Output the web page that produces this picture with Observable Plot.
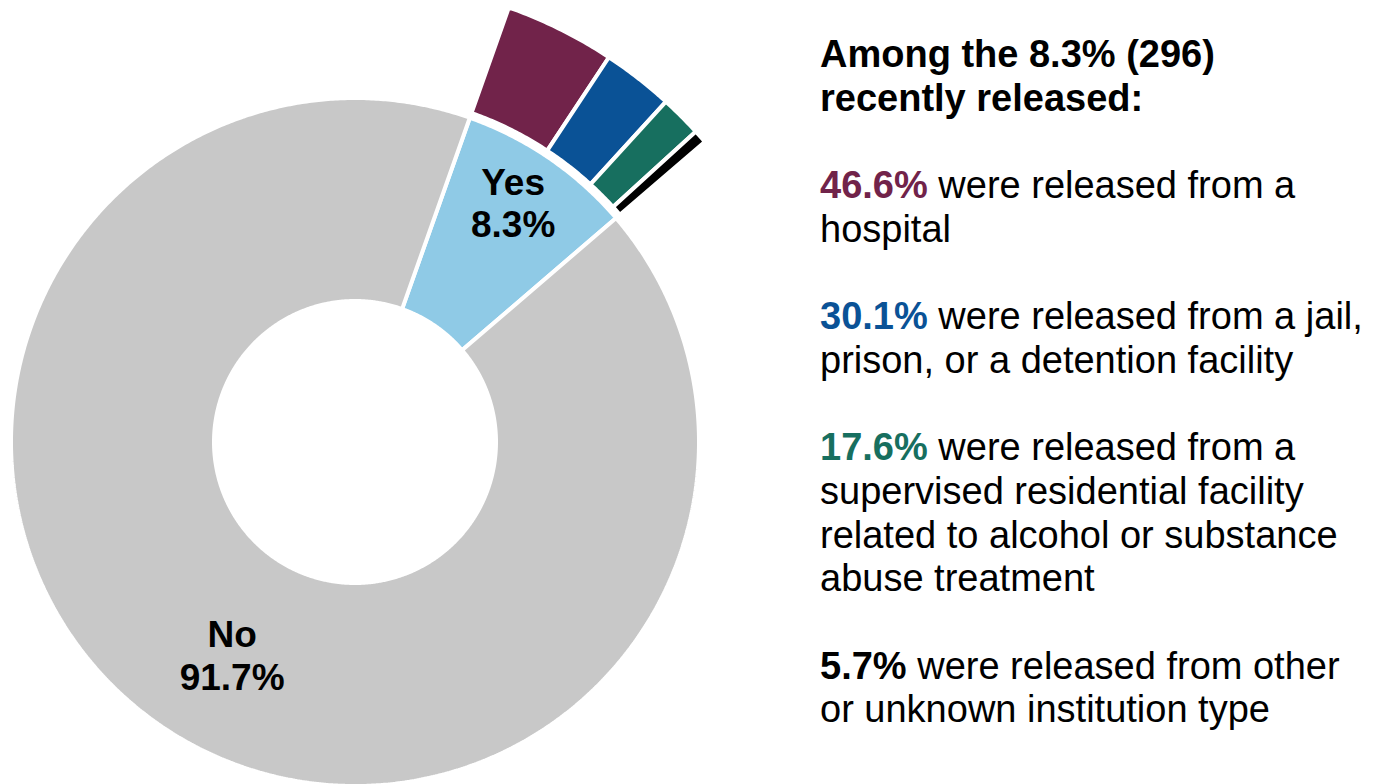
<!DOCTYPE html>
<html>
<head>
<meta charset="utf-8">
<script src="https://cdn.jsdelivr.net/npm/d3@7"></script>
<script src="https://cdn.jsdelivr.net/npm/@observablehq/plot@0.6"></script>
<style>
  html, body { margin: 0; padding: 0; background: #fff; }
  #wrap { position: relative; width: 1381px; height: 784px; overflow: hidden; font-family: "Liberation Sans", Arial, sans-serif; }
  #chart { position: absolute; left: 0; top: 0; }
  #notes { position: absolute; left: 820px; top: 33px; font-size: 38px; line-height: 43.7px; color: #000; white-space: nowrap; }
  #notes p { margin: 0 0 43.7px 0; }
  #notes b { font-weight: bold; }
</style>
</head>
<body>
<div id="wrap">
  <div id="chart"></div>
  <div id="notes"></div>
</div>
<script>
// ---- data ----
const sliceLabels = ["Yes", "No"];
const sliceValues = [8.3, 91.7];
const sliceColors = ["#8fcae6", "#c8c8c8"];

const subLabels = ["Hospital", "Jail, prison, or detention facility", "Supervised residential facility (alcohol/substance abuse treatment)", "Other or unknown institution type"];
const subValues = [46.6, 30.1, 17.6, 5.7];
const subColors = ["#71234a", "#0a5296", "#176f5f", "#000000"];
const subTexts = [
  "were released from a<br>hospital",
  "were released from a jail,<br>prison, or a detention facility",
  "were released from a<br>supervised residential facility<br>related to alcohol or substance<br>abuse treatment",
  "were released from other<br>or unknown institution type"
];
const headerText = "Among the 8.3% (296)<br>recently released:";

// ---- layout ----
const W = 800, H = 784;
const cx = 355, cy = 442;
const rIn = 141, rOut = 344;
const rSubIn = 349, rSubOut = 461;
const startDeg = 19.5;
const rad = d => d * Math.PI / 180;

const pie = d3.pie().sort(null).value(d => d.value).startAngle(rad(startDeg)).endAngle(rad(startDeg) + 2 * Math.PI);
const main = pie(sliceLabels.map((k, i) => ({key: k, value: sliceValues[i]})));
const yes = main[0];
const subPie = d3.pie().sort(null).value(d => d.value).startAngle(yes.startAngle).endAngle(yes.endAngle);
const subs = subPie(subLabels.map((k, i) => ({key: k, value: subValues[i]})));

function ring(arcs, r0, r1) {
  const rows = [];
  for (const a of arcs) {
    const n = Math.max(8, Math.ceil((a.endAngle - a.startAngle) / rad(0.4)));
    for (let i = 0; i <= n; i++) {
      const t = a.startAngle + (a.endAngle - a.startAngle) * i / n;
      rows.push({key: a.data.key, x1: r0 * Math.sin(t), y1: r0 * Math.cos(t), x2: r1 * Math.sin(t), y2: r1 * Math.cos(t)});
    }
  }
  return rows;
}
const rows = ring(main, rIn, rOut).concat(ring(subs, rSubIn, rSubOut));

function labelPos(a, r) {
  const t = (a.startAngle + a.endAngle) / 2;
  return {x: r * Math.sin(t), y: r * Math.cos(t), text: a.data.key + "\n" + d3.format(".1f")(a.data.value) + "%"};
}

const font = "Liberation Sans, Arial, sans-serif";
const chart = Plot.plot({
  width: W, height: H, margin: 0,
  style: {background: "transparent", fontFamily: font},
  x: {domain: [-cx, W - cx], axis: null},
  y: {domain: [cy - H, cy], axis: null},
  color: {domain: sliceLabels.concat(subLabels), range: sliceColors.concat(subColors)},
  marks: [
    Plot.area(rows, {x1: "x1", y1: "y1", x2: "x2", y2: "y2", z: "key", fill: "key", stroke: "white", strokeWidth: 4, strokeLinejoin: "miter"}),
    Plot.text([labelPos(main[0], 284)], {x: "x", y: "y", text: "text", dx: -3, dy: -6, fontSize: 37, fontWeight: "bold", fill: "black", lineHeight: 1.16, fontFamily: font}),
    Plot.text([labelPos(main[1], 250)], {x: "x", y: "y", text: "text", dx: 18, dy: 6, fontSize: 37, fontWeight: "bold", fill: "black", lineHeight: 1.16, fontFamily: font})
  ]
});
document.getElementById("chart").appendChild(chart);

// ---- side notes ----
const notes = document.getElementById("notes");
let html = `<p><b>${headerText}</b></p>`;
subValues.forEach((v, i) => {
  const col = subColors[i];
  html += `<p><b style="color:${col}">${d3.format(".1f")(v)}%</b> ${subTexts[i]}</p>`;
});
notes.innerHTML = html;
</script>
</body>
</html>
